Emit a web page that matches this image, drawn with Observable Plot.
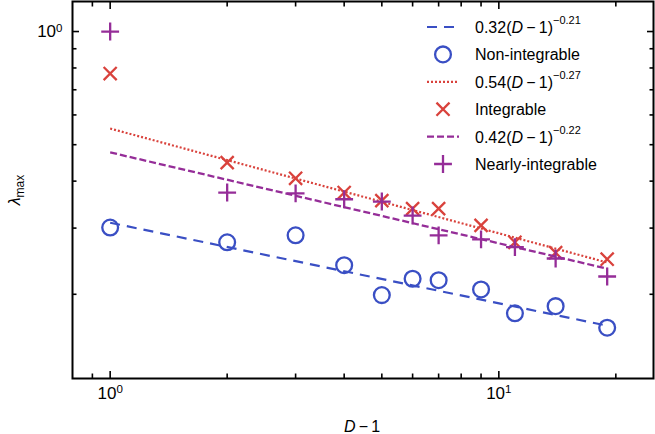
<!DOCTYPE html>
<html><head><meta charset="utf-8">
<script src="https://cdn.jsdelivr.net/npm/d3@7"></script>
<script src="https://cdn.jsdelivr.net/npm/@observablehq/plot@0.6"></script>
<style>body{margin:0;background:#fff} svg{display:block}</style>
</head><body><div id="chart"></div>
<script>
// ---- data ----
const dMinus1 = [1, 2, 3, 4, 5, 6, 7, 9, 11, 14, 19];
const nonIntegrable = [0.301, 0.275, 0.287, 0.239, 0.199, 0.220, 0.218, 0.206, 0.178, 0.186, 0.163];
const integrable = [0.773, 0.448, 0.407, 0.373, 0.355, 0.338, 0.338, 0.305, 0.275, 0.258, 0.248];
const nearlyIntegrable = [1.0, 0.373, 0.371, 0.358, 0.353, 0.324, 0.287, 0.280, 0.267, 0.249, 0.223];
// fit lines (straight on log-log): endpoints
const fitX = [1, 19];
const fitNon = [0.31, 0.165];
const fitInt = [0.552, 0.243];
const fitNear = [0.477, 0.234];
const xMajorTicks = [1, 10];
const xMinorTicks = [0.9, 2, 3, 4, 5, 6, 7, 8, 9, 20];
const yMajorTicks = [1];
const yMinorTicks = [0.2, 0.3, 0.4, 0.5, 0.6, 0.7, 0.8, 0.9];
const legendEntries = [
  {kind: "line", color: "#3a4fc4", dash: "10,7", coef: "0.32", exp: "\u22120.21"},
  {kind: "circle", color: "#3a4fc4", label: "Non-integrable"},
  {kind: "line", color: "#d9423c", dash: "2,2", coef: "0.54", exp: "\u22120.27"},
  {kind: "times", color: "#d9423c", label: "Integrable"},
  {kind: "line", color: "#952d98", dash: "7,3", coef: "0.42", exp: "\u22120.22"},
  {kind: "plus", color: "#952d98", label: "Nearly-integrable"}
];
const blue = "#3a4fc4", red = "#d9423c", purple = "#952d98";
const rCircle = 7.9, rTimes = 6, rPlus = 5.8;

const pts = (xs, ys) => xs.map((x, i) => ({x, y: ys[i]}));
const blank = () => "";

const chart = Plot.plot({
  width: 655, height: 434,
  marginLeft: 72, marginRight: 2, marginTop: 1, marginBottom: 56,
  style: {fontFamily: "'Liberation Sans', Arial, Helvetica, sans-serif", fontSize: "17px", color: "#000", background: "#fff"},
  x: {type: "log", domain: [0.8, 25], label: null},
  y: {type: "log", domain: [0.1194, 1.202], label: null},
  marks: [
    Plot.axisX(xMajorTicks, {anchor: "bottom", tickSize: -7, strokeWidth: 1.6, tickFormat: blank, label: null}),
    Plot.axisX(xMinorTicks, {anchor: "bottom", tickSize: -4.5, strokeWidth: 1.6, tickFormat: blank, label: null}),
    Plot.axisX(xMajorTicks, {anchor: "top", tickSize: -7, strokeWidth: 1.6, tickFormat: blank, label: null}),
    Plot.axisX(xMinorTicks, {anchor: "top", tickSize: -4.5, strokeWidth: 1.6, tickFormat: blank, label: null}),
    Plot.axisY(yMajorTicks, {anchor: "left", tickSize: -7, strokeWidth: 1.6, tickFormat: blank, label: null}),
    Plot.axisY(yMinorTicks, {anchor: "left", tickSize: -4.5, strokeWidth: 1.6, tickFormat: blank, label: null}),
    Plot.axisY(yMajorTicks, {anchor: "right", tickSize: -7, strokeWidth: 1.6, tickFormat: blank, label: null}),
    Plot.axisY(yMinorTicks, {anchor: "right", tickSize: -4.5, strokeWidth: 1.6, tickFormat: blank, label: null}),
    Plot.axisX(xMajorTicks, {anchor: "bottom", tickSize: 0, tickPadding: 8, fontSize: 17, tickFormat: d => "10^" + Math.round(Math.log10(d)), label: null}),
    Plot.axisY(yMajorTicks, {anchor: "left", tickSize: 0, tickPadding: 10, fontSize: 17, tickFormat: d => "10^" + Math.round(Math.log10(d)), label: null}),
    Plot.frame({stroke: "#000", strokeWidth: 2}),
    Plot.line(pts(fitX, fitNon), {x: "x", y: "y", stroke: blue, strokeWidth: 2.2, strokeDasharray: "10,7", strokeLinecap: "butt"}),
    Plot.dot(pts(dMinus1, nonIntegrable), {x: "x", y: "y", symbol: "circle", r: rCircle, stroke: blue, strokeWidth: 2.3, fill: "none"}),
    Plot.line(pts(fitX, fitInt), {x: "x", y: "y", stroke: red, strokeWidth: 2.2, strokeDasharray: "2,2", strokeLinecap: "butt"}),
    Plot.dot(pts(dMinus1, integrable), {x: "x", y: "y", symbol: "times", r: rTimes, stroke: red, strokeWidth: 2.3}),
    Plot.line(pts(fitX, fitNear), {x: "x", y: "y", stroke: purple, strokeWidth: 2.3, strokeDasharray: "7,3", strokeLinecap: "butt"}),
    Plot.dot(pts(dMinus1, nearlyIntegrable), {x: "x", y: "y", symbol: "plus", r: rPlus, stroke: purple, strokeWidth: 2.3})
  ]
});
document.getElementById("chart").appendChild(chart);

const svg = d3.select(chart);
// rewrite "10^n" labels with superscripts
svg.selectAll("text").each(function() {
  const t = this.textContent;
  if (t.includes("^")) {
    const [base, ex] = t.split("^");
    const sel = d3.select(this);
    sel.text("");
    sel.append("tspan").text(base);
    sel.append("tspan").attr("dy", "-0.45em").attr("font-size", "0.68em").text(ex);
  }
});

const font = "'Liberation Sans', Arial, Helvetica, sans-serif";
const g = svg.append("g").attr("font-family", font).attr("fill", "#000").attr("text-anchor", "start");

// axis titles
const xl = g.append("text").attr("x", 362).attr("y", 432).attr("text-anchor", "middle").attr("font-size", 16);
xl.append("tspan").attr("font-style", "italic").text("D");
xl.append("tspan").text("\u2009\u2212\u20091");

const yl = g.append("text").attr("transform", "translate(20,190) rotate(-90)").attr("text-anchor", "middle").attr("font-size", 16);
yl.append("tspan").attr("font-style", "italic").text("\u03bb");
yl.append("tspan").attr("font-size", 12).attr("dy", 4).text("max");

// legend
const lx = 443, tx = 475, y0 = 27, dy = 27.4;
legendEntries.forEach((e, i) => {
  const cy = y0 + i * dy;
  if (e.kind === "line") {
    g.append("line").attr("x1", lx - 16).attr("x2", lx + 16).attr("y1", cy).attr("y2", cy)
      .attr("stroke", e.color).attr("stroke-width", 2.2).attr("stroke-dasharray", e.dash);
    const t = g.append("text").attr("x", tx).attr("y", cy + 6).attr("font-size", 16);
    t.append("tspan").text(e.coef + "(");
    t.append("tspan").attr("font-style", "italic").text("D");
    t.append("tspan").text("\u2009\u2212\u20091)");
    t.append("tspan").attr("dy", -9).attr("font-size", 11).text(e.exp);
  } else {
    const sym = e.kind === "circle" ? d3.symbolCircle : e.kind === "times" ? d3.symbolTimes : d3.symbolPlus;
    const r = e.kind === "circle" ? rCircle : e.kind === "times" ? rTimes : rPlus;
    g.append("path").attr("transform", `translate(${lx},${cy})`)
      .attr("d", d3.symbol(sym, Math.PI * r * r)())
      .attr("fill", "none").attr("stroke", e.color).attr("stroke-width", 2.3);
    g.append("text").attr("x", tx).attr("y", cy + 6).attr("font-size", 16).text(e.label);
  }
});
</script>
</body></html>
